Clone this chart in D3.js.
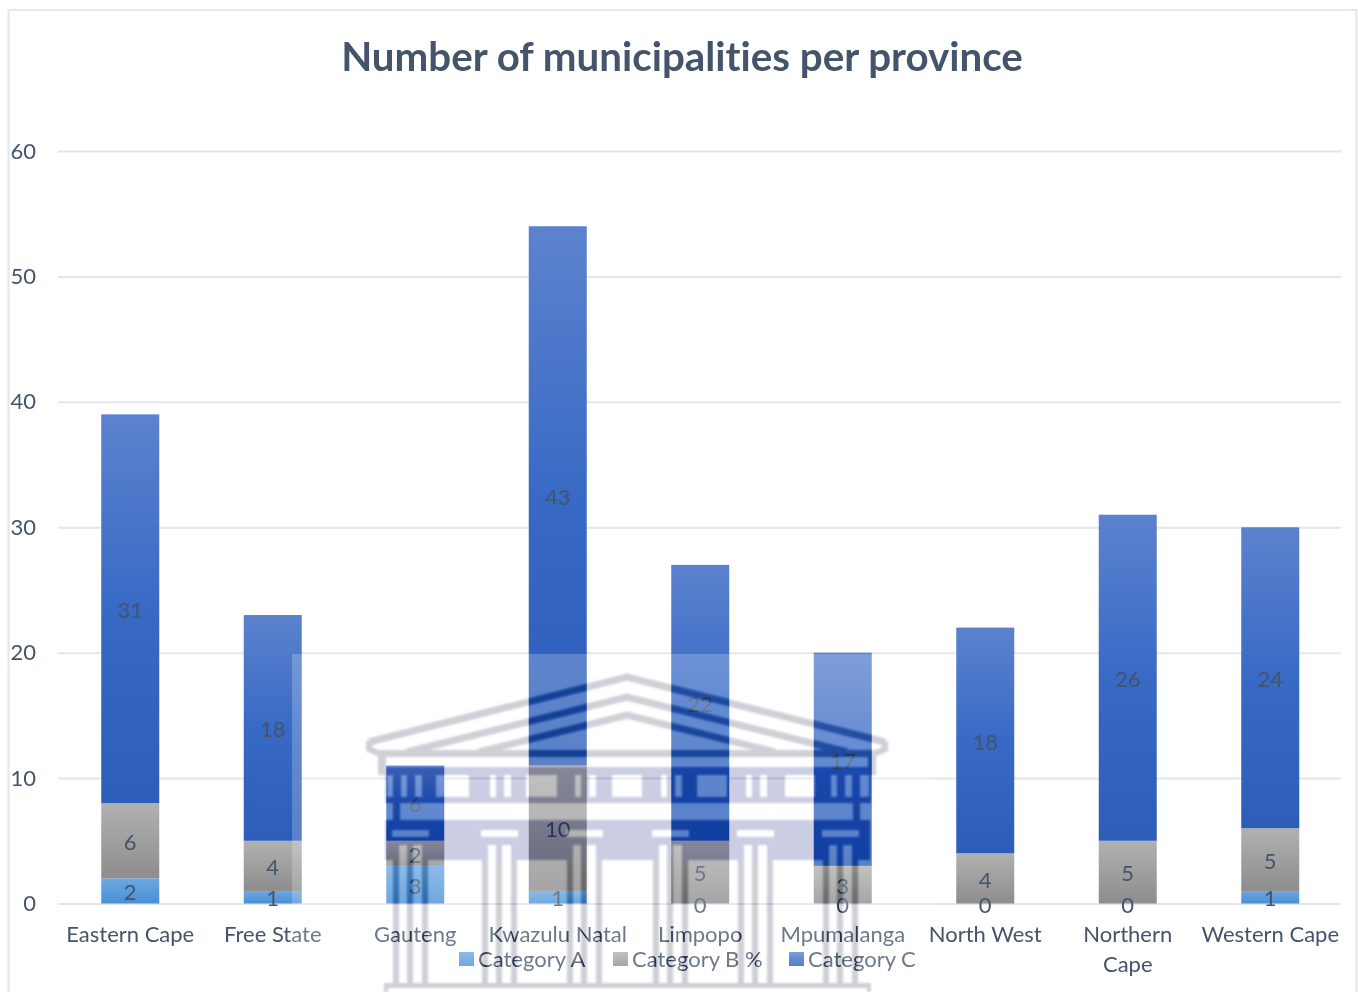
<!DOCTYPE html>
<html>
<head>
<meta charset="utf-8">
<title>Number of municipalities per province</title>
<script src="https://cdn.jsdelivr.net/npm/d3@7/dist/d3.min.js"></script>
<style>
  html, body { margin: 0; padding: 0; background: #fff; overflow: hidden; }
  svg { display: block; }
  text { font-family: Lato, "Open Sans", sans-serif; fill: #44546a; font-variant-ligatures: none; }
</style>
</head>
<body>
<svg id="chart" width="1358" height="992"></svg>
<script>
// Municipalities per province, by municipal category
const provinces = ["Eastern Cape", "Free State", "Gauteng", "Kwazulu Natal", "Limpopo", "Mpumalanga", "North West", "Northern Cape", "Western Cape"];
const seriesNames = ["Category A", "Category B %", "Category C"];
const categoryA = [2, 1, 3, 1, 0, 0, 0, 0, 1];
const categoryB = [6, 4, 2, 10, 5, 3, 4, 5, 5];
const categoryC = [31, 18, 6, 43, 22, 17, 18, 26, 24];
const yTicks = [0, 10, 20, 30, 40, 50, 60];
const chartTitle = "Number of municipalities per province";

const svg = d3.select("#chart");
const margin = { left: 58, right: 1341, top: 151, bottom: 903.5 };
const textColor = "#44546a";
const gridColor = "#e3e6ee";

const rows = provinces.map((province, i) => ({
  province,
  [seriesNames[0]]: categoryA[i],
  [seriesNames[1]]: categoryB[i],
  [seriesNames[2]]: categoryC[i]
}));
const stacked = d3.stack().keys(seriesNames)(rows);

const x = d3.scaleBand().domain(provinces).range([59, 1341.5]).paddingInner(0.593).paddingOuter(0.2965);
const y = d3.scaleLinear().domain([0, 60]).range([margin.bottom, margin.top]);

// Vertical shading per series
const defs = svg.append("defs");
const shades = [
  [["0%", "#6ca8e1"], ["100%", "#4a8fd5"]],
  [["0%", "#b1b1b1"], ["100%", "#8d8d8d"]],
  [["0%", "#5c82ce"], ["50%", "#386ac5"], ["100%", "#2c5eb9"]]
];
shades.forEach((stops, i) => {
  const g = defs.append("linearGradient")
    .attr("id", "shade" + i).attr("x1", 0).attr("y1", 0).attr("x2", 0).attr("y2", 1);
  stops.forEach(([offset, color]) => g.append("stop").attr("offset", offset).attr("stop-color", color));
});

// Outer chart frame
svg.append("rect").attr("x", 8.5).attr("y", 10).attr("width", 1348).attr("height", 1000)
  .attr("fill", "#fff").attr("stroke", gridColor).attr("stroke-width", 2);

svg.append("text").attr("x", 682).attr("y", 71).attr("text-anchor", "middle")
  .attr("font-size", 40.3).attr("font-weight", 700).text(chartTitle);

// Value axis with full-width gridlines
const yAxis = svg.append("g").attr("transform", `translate(${margin.left},0)`)
  .call(d3.axisLeft(y).tickValues(yTicks).tickSize(-(margin.right - margin.left)).tickPadding(22));
yAxis.select(".domain").remove();
yAxis.selectAll("line").attr("stroke", gridColor).attr("stroke-width", 2);
yAxis.selectAll("text").attr("font-size", 22).attr("font-family", null).style("fill", textColor);

// Stacked bars
svg.append("g").selectAll("g").data(stacked).join("g")
  .attr("fill", (d, i) => `url(#shade${i})`)
  .selectAll("rect").data(d => d.filter(s => s[1] > s[0])).join("rect")
  .attr("x", d => x(d.data.province))
  .attr("y", d => y(d[1]))
  .attr("width", x.bandwidth())
  .attr("height", d => y(d[0]) - y(d[1]));

// Category axis; long names wrap on to a second line
const xAxis = svg.append("g").attr("transform", `translate(0,${margin.bottom})`)
  .call(d3.axisBottom(x).tickSize(0).tickPadding(23));
xAxis.select(".domain").remove();
xAxis.selectAll("text").attr("font-size", 22).attr("font-family", null).style("fill", textColor)
  .each(function (name) {
    if (this.getComputedTextLength() <= x.step() - 2) return;
    const node = d3.select(this);
    const words = name.split(" ");
    const dy = node.attr("dy");
    node.text(null);
    words.forEach((w, i) => node.append("tspan").attr("x", 0).attr("dy", i ? "30" : dy).text(w));
  });

// Segment value labels
svg.append("g").selectAll("g").data(stacked).join("g")
  .selectAll("text").data(d => d).join("text")
  .attr("x", d => x(d.data.province) + x.bandwidth() / 2)
  .attr("y", d => y((d[0] + d[1]) / 2))
  .attr("dy", "0.42em").attr("text-anchor", "middle").attr("font-size", 22)
  .text(d => d[1] - d[0]);

// Legend
const legendX = [459, 613, 789];
const legend = svg.append("g").selectAll("g").data(seriesNames).join("g")
  .attr("transform", (d, i) => `translate(${legendX[i]},952)`);
legend.append("rect").attr("width", 15).attr("height", 14).attr("fill", (d, i) => `url(#shade${i})`);
legend.append("text").attr("x", 19).attr("y", 7).attr("dy", "0.35em").attr("font-size", 22).text(d => d);

// University crest stamped over the lower middle of the plot
const columnStarts = [393, 482, 567, 653, 738, 823];
const wideWindows = [[436, 469], [526, 557], [612, 642], [697, 727], [785, 815]];
const box = (x0, y0, x1, y1) => `M${x0},${y0}H${x1}V${y1}H${x0}Z`;

function roofPath() {
  const chevron = (dx, top, end) => `M${627 - dx},${end}L627,${top}L${627 + dx},${end}`;
  return chevron(258, 677, 742) + chevron(220, 697, 752) + chevron(148, 715, 752);
}
function roofEnds() {
  return `M369,741V749L382,755` + `M885,741V749L872,755`;
}
function lineworkPath() {
  let p = box(378, 750, 876, 757) + box(378, 757, 386, 775) + box(868, 757, 876, 775)
    + box(393, 803, 400, 820) + box(853, 803, 860, 820);
  columnStarts.forEach(c => {
    [[0, 6], [14, 20], [29, 35]].forEach(([a, b]) => { p += box(c + a, 860, c + b, 983); });
  });
  p += box(384, 983, 871, 988) + box(384, 988, 388, 992) + box(867, 988, 871, 992);
  return p;
}
function entablaturePath() {
  let p = box(386, 767, 868, 775) + box(385, 775, 871, 803);
  wideWindows.forEach(([a, b]) => { p += box(a, 775, b, 797); });
  p += box(387, 775, 393, 797) + box(860, 775, 869, 797);
  columnStarts.forEach(c => {
    p += box(c + 8, 775, c + 14, 797) + box(c + 22, 775, c + 29, 797);
  });
  p += box(385, 820, 870, 860);
  columnStarts.forEach(c => {
    p += box(c - 1, 830, c + 36, 837) + box(c + 6, 845, c + 14, 860) + box(c + 20, 845, c + 29, 860);
  });
  return p;
}
function drawCrest(parent, roofColor, bandColor) {
  parent.append("path").attr("d", roofPath()).attr("fill", "none").attr("stroke", roofColor).attr("stroke-width", 7);
  parent.append("path").attr("d", roofEnds()).attr("fill", "none").attr("stroke", roofColor).attr("stroke-width", 6);
  parent.append("path").attr("d", lineworkPath()).attr("fill", roofColor);
  parent.append("path").attr("d", entablaturePath()).attr("fill", bandColor).attr("fill-rule", "evenodd");
}

const soften = defs.append("filter").attr("id", "soften").attr("filterUnits", "userSpaceOnUse")
  .attr("x", 340).attr("y", 650).attr("width", 570).attr("height", 360);
soften.append("feGaussianBlur").attr("stdDeviation", 1);

// White veil behind the crest, open where the crest's ink falls
const veilMask = defs.append("mask").attr("id", "veilMask").attr("maskUnits", "userSpaceOnUse")
  .attr("x", 0).attr("y", 0).attr("width", 1358).attr("height", 992);
veilMask.append("rect").attr("width", 1358).attr("height", 992).attr("fill", "#fff");
drawCrest(veilMask.append("g").attr("filter", "url(#soften)"), "#000", "#000");

svg.append("rect").attr("x", 292).attr("y", 654).attr("width", 638).attr("height", 338)
  .attr("fill", "#fff").attr("fill-opacity", 0.22).attr("mask", "url(#veilMask)");

// Burn deepens the ink over the dark bars while leaving white paper untouched
drawCrest(svg.append("g").attr("filter", "url(#soften)").style("mix-blend-mode", "color-burn"), "#e6e6e6", "#e6e6f5");
drawCrest(svg.append("g").attr("filter", "url(#soften)").style("mix-blend-mode", "multiply"), "#cfcfd6", "#cbcde2");
</script>
</body>
</html>
